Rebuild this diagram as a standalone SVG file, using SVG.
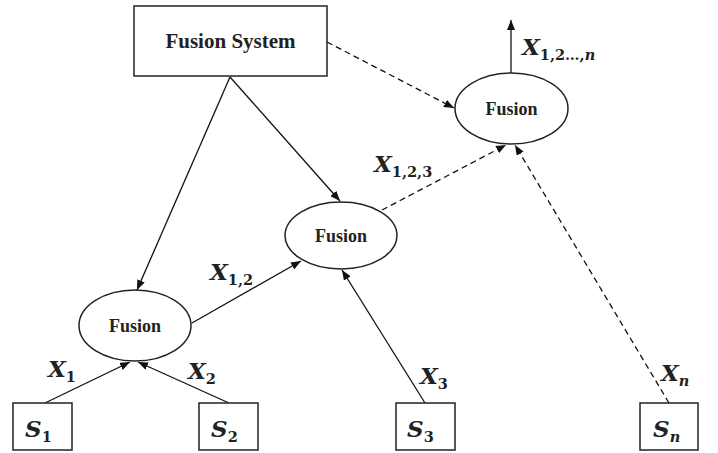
<svg xmlns="http://www.w3.org/2000/svg" width="718" height="453" viewBox="0 0 718 453">
<defs>
<marker id="ah" markerWidth="10" markerHeight="8" refX="10" refY="4" orient="auto" markerUnits="userSpaceOnUse">
<path d="M0,0 L10,4 L0,8 Z" fill="#111"/>
</marker>
</defs>
<style>
.box{fill:#fff;stroke:#222;stroke-width:1.5}
.ell{fill:#fff;stroke:#222;stroke-width:1.5}
.lbl{font-family:"Liberation Serif","Times New Roman",serif;font-weight:bold;fill:#222;text-anchor:middle}
.math{font-family:"DejaVu Serif","Liberation Serif",serif;font-weight:bold;font-style:italic;fill:#222;font-size:23px}
.sub{font-style:normal;font-size:14.5px}
.subi{font-style:italic;font-size:14.5px}
.ln{stroke:#111;stroke-width:1.3;fill:none;marker-end:url(#ah)}
.dash{stroke-dasharray:6,4}
</style>
<g id="connectors">
<line class="ln" x1="230" y1="77" x2="137" y2="290"/>
<line class="ln" x1="230" y1="77" x2="340" y2="201"/>
<line class="ln dash" x1="327" y1="42" x2="454" y2="108"/>
<line class="ln" x1="45" y1="403" x2="130" y2="362"/>
<line class="ln" x1="229" y1="403" x2="138" y2="362"/>
<line class="ln" x1="192" y1="323" x2="301" y2="261"/>
<line class="ln" x1="425" y1="403" x2="342" y2="270"/>
<line class="ln dash" x1="382" y1="210" x2="506" y2="145"/>
<line class="ln dash" x1="669" y1="403" x2="515" y2="145"/>
<line class="ln" x1="511" y1="73" x2="511" y2="20"/>
</g>
<g id="fusion-system">
<rect class="box" x="134" y="6" width="193" height="70"/>
<text class="lbl" x="230.5" y="48" font-size="21">Fusion System</text>
</g>
<g id="fusion-1">
<ellipse class="ell" cx="135" cy="325.5" rx="56" ry="35.5"/>
<text class="lbl" x="135" y="332" font-size="18">Fusion</text>
</g>
<g id="fusion-2">
<ellipse class="ell" cx="341" cy="235.5" rx="56" ry="33.5"/>
<text class="lbl" x="341" y="242" font-size="18">Fusion</text>
</g>
<g id="fusion-n">
<ellipse class="ell" cx="511.5" cy="108.5" rx="56.5" ry="35.5"/>
<text class="lbl" x="511.5" y="115" font-size="18">Fusion</text>
</g>
<g id="s1">
<rect class="box" x="13" y="403" width="59" height="47"/>
<text class="math" x="25" y="437">S<tspan class="sub" dy="5">1</tspan></text>
</g>
<g id="s2">
<rect class="box" x="199" y="403" width="59" height="47"/>
<text class="math" x="211" y="437">S<tspan class="sub" dy="5">2</tspan></text>
</g>
<g id="s3">
<rect class="box" x="396" y="403" width="59" height="47"/>
<text class="math" x="407" y="437">S<tspan class="sub" dy="5">3</tspan></text>
</g>
<g id="sn">
<rect class="box" x="640" y="403" width="58" height="47"/>
<text class="math" x="653" y="437">S<tspan class="subi" dy="5">n</tspan></text>
</g>
<g id="labels">
<text class="math" x="48" y="377">X<tspan class="sub" dy="5">1</tspan></text>
<text class="math" x="188" y="379">X<tspan class="sub" dy="5">2</tspan></text>
<text class="math" x="420" y="384">X<tspan class="sub" dy="5">3</tspan></text>
<text class="math" x="661" y="381">X<tspan class="subi" dy="5">n</tspan></text>
<text class="math" x="210" y="280">X<tspan class="sub" dy="5">1,2</tspan></text>
<text class="math" x="374" y="172">X<tspan class="sub" dy="5">1,2,3</tspan></text>
<text class="math" x="522" y="55">X<tspan class="sub" dy="5">1,2…,</tspan><tspan class="subi">n</tspan></text>
</g>
</svg>
